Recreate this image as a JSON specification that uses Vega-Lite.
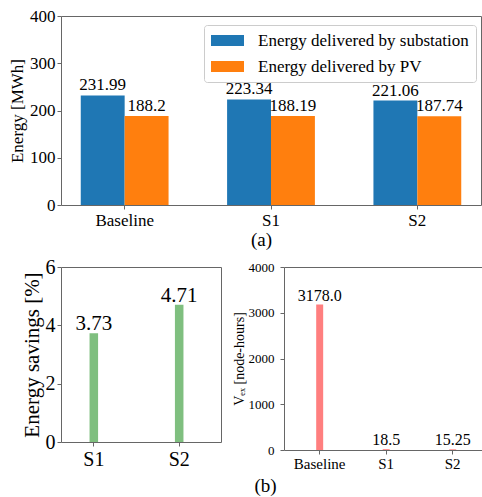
{
  "$schema": "https://vega.github.io/schema/vega-lite/v6.json",
  "background": "white",
  "padding": {"left": 8, "top": 6, "right": 0, "bottom": 0},
  "config": {
    "font": "Liberation Serif, Times New Roman, DejaVu Serif, serif",
    "text": {"font": "Liberation Serif, Times New Roman, DejaVu Serif, serif"},
    "view": {"stroke": "#666", "strokeWidth": 1},
    "axis": {"domain": false, "grid": false, "labelColor": "#000", "titleColor": "#000", "tickColor": "#666", "tickSize": 4, "labelFont": "Liberation Serif, Times New Roman, DejaVu Serif, serif", "titleFont": "Liberation Serif, Times New Roman, DejaVu Serif, serif", "titleFontWeight": "normal"},
    "legend": {"labelFont": "Liberation Serif, Times New Roman, DejaVu Serif, serif"},
    "title": {"font": "Liberation Serif, Times New Roman, DejaVu Serif, serif", "fontWeight": "normal", "color": "#000"}
  },
  "datasets": {
    "energy": [
      {"case": "Baseline", "series": "Energy delivered by substation", "value": 231.99},
      {"case": "Baseline", "series": "Energy delivered by PV", "value": 188.2},
      {"case": "S1", "series": "Energy delivered by substation", "value": 223.34},
      {"case": "S1", "series": "Energy delivered by PV", "value": 188.19},
      {"case": "S2", "series": "Energy delivered by substation", "value": 221.06},
      {"case": "S2", "series": "Energy delivered by PV", "value": 187.74}
    ],
    "savings": [
      {"case": "S1", "value": 3.73, "label": "3.73"},
      {"case": "S2", "value": 4.71, "label": "4.71"}
    ],
    "vex": [
      {"case": "Baseline", "value": 3178.0, "label": "3178.0"},
      {"case": "S1", "value": 18.5, "label": "18.5"},
      {"case": "S2", "value": 15.25, "label": "15.25"}
    ]
  },
  "spacing": 6,
  "vconcat": [
    {
      "width": 420,
      "height": 189,
      "data": {"name": "energy"},
      "encoding": {
        "x": {"field": "case", "type": "nominal", "sort": ["Baseline", "S1", "S2"],
          "scale": {"paddingInner": 0.4, "paddingOuter": 0.135},
          "axis": {"title": "(a)", "labelAngle": 0, "labelFontSize": 17, "titleFontSize": 19, "titlePadding": 2, "titleX": 200, "labelPadding": 3}},
        "xOffset": {"field": "series", "type": "nominal", "sort": ["Energy delivered by substation", "Energy delivered by PV"], "scale": {"paddingInner": 0, "paddingOuter": 0}},
        "y": {"field": "value", "type": "quantitative", "scale": {"domain": [0, 400]},
          "axis": {"title": "Energy [MWh]", "values": [0, 100, 200, 300, 400], "format": "d", "labelFontSize": 17, "titleFontSize": 17, "titlePadding": 3, "labelPadding": 2}}
      },
      "layer": [
        {
          "mark": {"type": "bar"},
          "encoding": {
            "color": {"field": "series", "type": "nominal", "sort": ["Energy delivered by substation", "Energy delivered by PV"],
              "scale": {"domain": ["Energy delivered by substation", "Energy delivered by PV"], "range": ["#1f77b4", "#ff7f0e"]},
              "legend": {"title": null, "orient": "none", "legendX": 143, "legendY": 9,
                "symbolType": "M-3,-1H3V1H-3Z", "symbolSize": 121, "symbolOffset": 8, "symbolStrokeWidth": 0,
                "labelFontSize": 17, "labelColor": "#000", "labelOffset": 22, "labelLimit": 400,
                "fillColor": "white", "strokeColor": "#ccc", "cornerRadius": 3, "padding": 7, "rowPadding": 8}}
          }
        },
        {
          "mark": {"type": "text", "baseline": "alphabetic", "align": "center", "dy": -5, "fontSize": 17, "color": "#000"},
          "encoding": {"text": {"field": "value", "type": "quantitative"}}
        }
      ]
    },
    {
      "spacing": 63,
      "bounds": "flush",
      "hconcat": [
        {
          "width": 160,
          "height": 175,
          "data": {"name": "savings"},
          "encoding": {
            "x": {"field": "case", "type": "nominal", "scale": {"paddingInner": 0.9, "paddingOuter": 0.387, "align": 0.432},
              "axis": {"title": "(b)", "titleFontSize": 19, "titleX": 204, "titleY": 43, "titleBaseline": "middle", "labelAngle": 0, "labelFontSize": 20, "labelPadding": 3}},
            "y": {"field": "value", "type": "quantitative", "scale": {"domain": [0, 6]},
              "axis": {"title": "Energy savings [%]", "values": [0, 2, 4, 6], "format": "d", "labelFontSize": 20, "titleFontSize": 21, "titlePadding": 3, "labelPadding": 2}}
          },
          "layer": [
            {"mark": {"type": "bar", "color": "#7fbf7f"}},
            {"mark": {"type": "text", "baseline": "alphabetic", "align": "center", "dy": -3, "fontSize": 21, "color": "#000"},
              "encoding": {"text": {"field": "label", "type": "nominal"}}}
          ]
        },
        {
          "width": 198,
          "height": 183,
          "data": {"name": "vex"},
          "encoding": {
            "x": {"field": "case", "type": "nominal", "sort": ["Baseline", "S1", "S2"], "scale": {"paddingInner": 0.895, "paddingOuter": 0.436, "align": 0.555},
              "axis": {"title": null, "labelAngle": 0, "labelFontSize": 15, "labelPadding": 2}},
            "y": {"field": "value", "type": "quantitative", "scale": {"domain": [0, 4000]},
              "axis": {"title": "Vₑₓ [node-hours]", "values": [0, 1000, 2000, 3000, 4000], "format": "d", "labelFontSize": 13, "titleFontSize": 14, "titlePadding": 2, "labelPadding": 6}}
          },
          "layer": [
            {"mark": {"type": "bar", "color": "#ff7f7f"}},
            {"mark": {"type": "text", "baseline": "alphabetic", "align": "center", "dy": -4, "fontSize": 16, "color": "#000"},
              "encoding": {"text": {"field": "label", "type": "nominal"}}}
          ]
        }
      ]
    }
  ]
}
